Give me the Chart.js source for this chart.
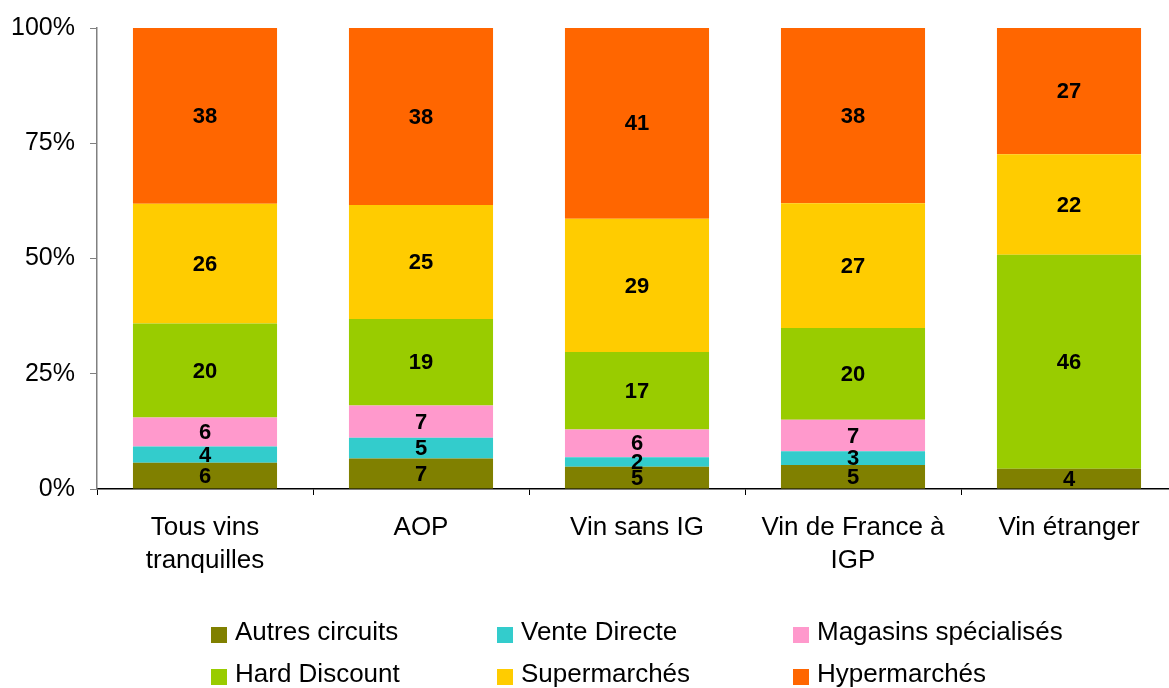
<!DOCTYPE html>
<html>
<head>
<meta charset="utf-8">
<script src="https://cdn.jsdelivr.net/npm/chart.js@4/dist/chart.umd.min.js"></script>
<style>
  html, body { margin: 0; background: #fff; overflow: hidden; }
  #wrap { position: relative; width: 1169px; height: 688px; overflow: hidden; }
  .legend-item { position: absolute; font-family: 'Liberation Sans', Arial, sans-serif; font-size: 26px; line-height: 26px; color: #000; white-space: nowrap; }
  .legend-box { position: absolute; width: 16px; height: 16px; }
</style>
</head>
<body>
<div id="wrap">
  <canvas id="chart" width="1177" height="688"></canvas>
  <div id="legend"></div>
</div>
<script>
const categories = [
  ['Tous vins', 'tranquilles'],
  ['AOP'],
  ['Vin sans IG'],
  ['Vin de France à', 'IGP'],
  ['Vin étranger'],
]

// parts de marché (%) par circuit, du bas vers le haut de chaque barre
const autresCircuits = [5.7, 6.6, 4.8, 5.2, 4.4]
const venteDirecte = [3.5, 4.5, 2.1, 3.0, 0]
const magasinsSpecialises = [6.3, 7.0, 6.0, 6.8, 0]
const hardDiscount = [20.4, 18.8, 16.8, 19.9, 46.4]
const supermarches = [26.0, 24.7, 28.9, 27.1, 21.8]
const hypermarches = [38.1, 38.4, 41.4, 38.0, 27.4]

const yTicks = [0, 25, 50, 75, 100]

const series = [
  { label: 'Autres circuits', data: autresCircuits, color: '#808000' },
  { label: 'Vente Directe', data: venteDirecte, color: '#33CCCC' },
  { label: 'Magasins spécialisés', data: magasinsSpecialises, color: '#FF99CC' },
  { label: 'Hard Discount', data: hardDiscount, color: '#99CC00' },
  { label: 'Supermarchés', data: supermarches, color: '#FFCC00' },
  { label: 'Hypermarchés', data: hypermarches, color: '#FF6600' },
]

const fontFamily = "'Liberation Sans', Arial, sans-serif"

// valeurs arrondies au centre de chaque segment
const segmentLabels = {
  id: 'segmentLabels',
  afterDatasetsDraw(chart) {
    const ctx = chart.ctx
    ctx.save()
    ctx.font = 'bold 22px ' + fontFamily
    ctx.fillStyle = '#000'
    ctx.textAlign = 'center'
    ctx.textBaseline = 'middle'
    chart.data.datasets.forEach((ds, i) => {
      const meta = chart.getDatasetMeta(i)
      meta.data.forEach((bar, j) => {
        const v = ds.data[j]
        if (!v) return
        ctx.fillText(String(Math.round(v)), bar.x, (bar.y + bar.base) / 2 + 1)
      })
    })
    ctx.restore()
  },
}

const chart = new Chart(document.getElementById('chart'), {
  type: 'bar',
  data: {
    labels: categories,
    datasets: series.map(s => ({
      label: s.label,
      data: s.data,
      backgroundColor: s.color,
      borderWidth: 0,
      barPercentage: 0.667,
      categoryPercentage: 1,
    })),
  },
  options: {
    responsive: false,
    animation: false,
    events: [],
    layout: { padding: { top: 28, bottom: 89, left: 0, right: 0 } },
    plugins: {
      legend: { display: false },
      tooltip: { enabled: false },
    },
    scales: {
      x: {
        stacked: true,
        afterFit: scale => { scale.height = 110 },
        border: { color: '#000', width: 1.5 },
        grid: {
          offset: true,
          drawOnChartArea: false,
          tickLength: 6,
          color: '#000',
        },
        ticks: {
          color: '#000',
          padding: 16,
          maxRotation: 0,
          autoSkip: false,
          font: { family: fontFamily, size: 26, lineHeight: 1.28 },
        },
      },
      y: {
        stacked: true,
        min: 0,
        max: 100,
        afterFit: scale => { scale.width = 97 },
        afterBuildTicks: scale => { scale.ticks = yTicks.map(v => ({ value: v })) },
        border: { color: '#808080', width: 1.5 },
        grid: {
          drawOnChartArea: false,
          tickLength: 7,
          color: '#808080',
        },
        ticks: {
          color: '#000',
          padding: 15,
          callback: v => v + '%',
          font: { family: fontFamily, size: 25, lineHeight: 1 },
        },
      },
    },
  },
  plugins: [segmentLabels],
})

function buildLegend() {
  const legend = document.getElementById('legend')
  const colX = [211, 497, 793]
  const rowY = [627, 669]
  chart.data.datasets.forEach((ds, i) => {
    const x = colX[i % 3]
    const y = rowY[Math.floor(i / 3)]

    const box = document.createElement('div')
    box.className = 'legend-box'
    box.style.left = x + 'px'
    box.style.top = y + 'px'
    box.style.background = ds.backgroundColor
    legend.appendChild(box)

    const text = document.createElement('div')
    text.className = 'legend-item'
    text.style.left = (x + 24) + 'px'
    text.style.top = (y - 9) + 'px'
    text.textContent = ds.label
    legend.appendChild(text)
  })
}

buildLegend()
</script>
</body>
</html>
